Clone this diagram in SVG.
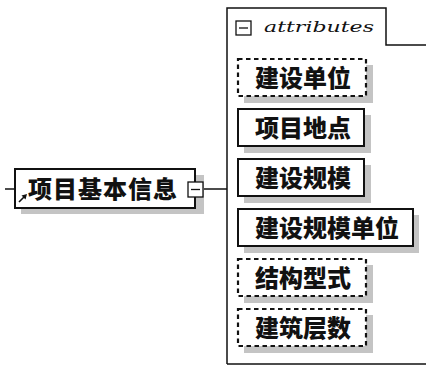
<svg xmlns="http://www.w3.org/2000/svg" width="426" height="367" viewBox="0 0 426 367">
<style>
.box{fill:#fff;stroke:#111;stroke-width:2}
.dash{fill:#fff;stroke:#111;stroke-width:2.2;stroke-dasharray:4.5 3.5}
.sh{fill:#c4c4c4}
.t{font-family:"Noto Sans CJK SC","Noto Sans CJK TC",sans-serif;font-weight:900;font-size:24px;fill:#111}
.ln{stroke:#111;stroke-width:1.5;fill:none}
</style>
<rect width="426" height="367" fill="#fff"/>
<g id="container">
<path class="ln" d="M227,364 V8 H386 V45 H426"/>
<path class="ln" d="M227,364 H426"/>
<rect x="236" y="21" width="15" height="14" fill="#fff" stroke="#111" stroke-width="1.3"/>
<line x1="239" y1="28" x2="248" y2="28" stroke="#111" stroke-width="1.3"/>
<text x="264" y="32" font-family="DejaVu Serif, serif" font-style="italic" font-size="15" textLength="110" lengthAdjust="spacingAndGlyphs" fill="#111">attributes</text>
</g>
<g id="connectors">
<line class="ln" x1="5" y1="189" x2="15" y2="189"/>
<line class="ln" x1="203" y1="189" x2="227" y2="189"/>
</g>
<g id="n0">
<rect class="sh" x="21" y="175" width="183" height="39"/>
<rect class="box" x="15" y="169" width="180" height="39"/>
<path d="M19,202 L25,196" stroke="#111" stroke-width="1.6"/>
<polygon points="27,194 21.5,195.5 25.5,199.5" fill="#111"/>
<text class="t" x="28" y="198" letter-spacing="1">项目基本信息</text>
<rect x="188" y="182" width="15" height="15" fill="#fff" stroke="#111" stroke-width="1.3"/>
<line x1="191" y1="189.5" x2="200" y2="189.5" stroke="#111" stroke-width="1.3"/>
</g>
<g id="n1">
<rect class="sh" x="244" y="65" width="129" height="38"/>
<rect class="dash" x="238" y="59" width="128" height="37"/>
<text class="t" x="255" y="86.5">建设单位</text>
</g>
<g id="n2">
<rect class="sh" x="244" y="115" width="127" height="38"/>
<rect class="box" x="238" y="109" width="126" height="37"/>
<text class="t" x="255" y="136.5">项目地点</text>
</g>
<g id="n3">
<rect class="sh" x="244" y="165" width="127" height="38"/>
<rect class="box" x="238" y="159" width="126" height="37"/>
<text class="t" x="255" y="186.5">建设规模</text>
</g>
<g id="n4">
<rect class="sh" x="244" y="215" width="175" height="38"/>
<rect class="box" x="238" y="209" width="175" height="37"/>
<text class="t" x="255" y="236.5">建设规模单位</text>
</g>
<g id="n5">
<rect class="sh" x="244" y="265" width="129" height="38"/>
<rect class="dash" x="238" y="259" width="128" height="37"/>
<text class="t" x="255" y="286.5">结构型式</text>
</g>
<g id="n6">
<rect class="sh" x="244" y="315" width="129" height="38"/>
<rect class="dash" x="238" y="309" width="128" height="37"/>
<text class="t" x="255" y="336.5">建筑层数</text>
</g>
</svg>
